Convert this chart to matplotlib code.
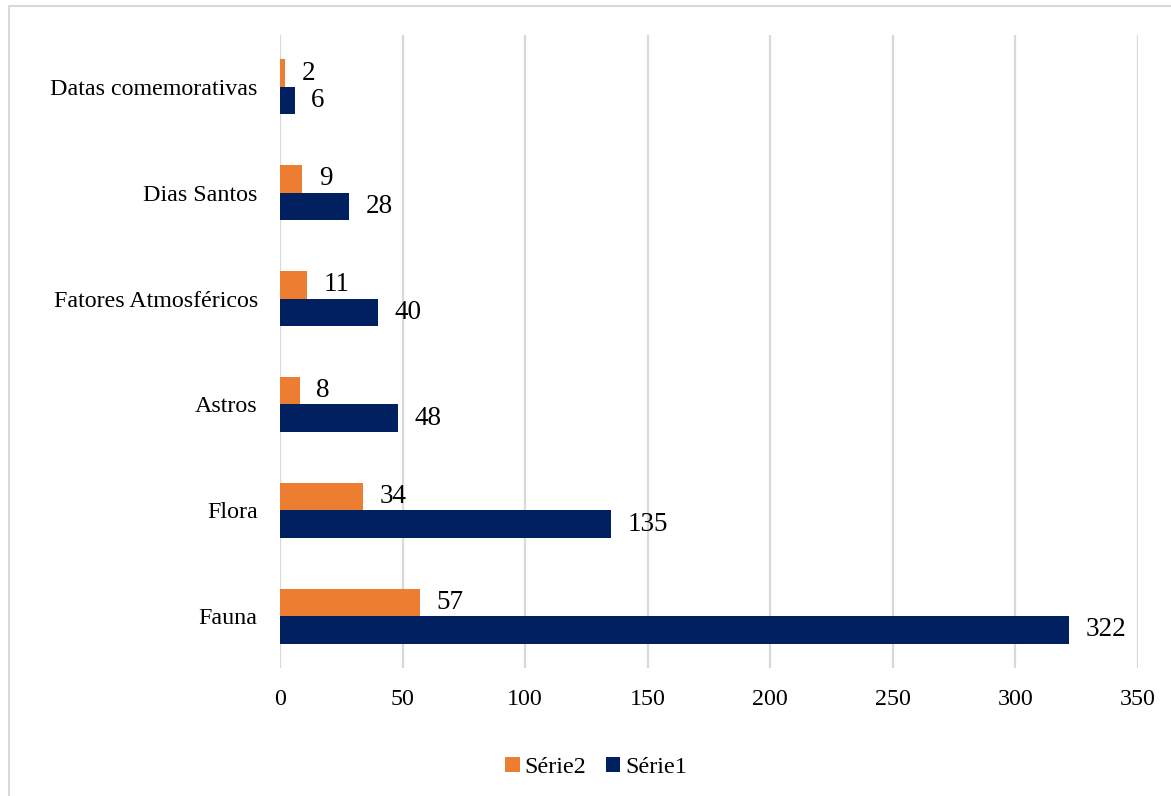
import matplotlib
matplotlib.use("Agg")
import matplotlib.pyplot as plt
from matplotlib.patches import Rectangle
import numpy as np

categories = ["Fauna", "Flora", "Astros", "Fatores Atmosféricos", "Dias Santos", "Datas comemorativas"]
serie1 = [322, 135, 48, 40, 28, 6]
serie2 = [57, 34, 8, 11, 9, 2]
xticks = [0, 50, 100, 150, 200, 250, 300, 350]

plt.rcParams["font.family"] = ["Liberation Serif", "DejaVu Serif"]

fig = plt.figure(figsize=(11.71, 7.96), dpi=100)
ax = fig.add_axes([0.2391, 0.1608, 0.7327, 0.7952])

y = np.arange(len(categories))
h = 0.26
orange = "#ED7D31"
navy = "#002060"

b2 = ax.barh(y + h / 2, serie2, height=h, color=orange, label="Série2", zorder=3)
b1 = ax.barh(y - h / 2, serie1, height=h, color=navy, label="Série1", zorder=3)

for bars, vals in ((b2, serie2), (b1, serie1)):
    for rect, v in zip(bars, vals):
        ax.annotate(f"{v}", (v, rect.get_y() + rect.get_height() / 2),
                    xytext=(12, 0), textcoords="offset points",
                    ha="left", va="center", fontsize=19.5, color="black")

ax.set_xlim(0, 350)
ax.set_ylim(-0.49, 5.49)
ax.set_xticks(xticks)
ax.set_yticks(y)
ax.set_yticklabels(categories)
ax.tick_params(axis="both", length=0, labelsize=17.3, colors="black")
ax.tick_params(axis="x", pad=15)
ax.tick_params(axis="y", pad=16)
ax.grid(axis="x", color="#d9d9d9", linewidth=1.6, zorder=0)
for s in ax.spines.values():
    s.set_visible(False)

leg = fig.legend(handles=[b2, b1], labels=["Série2", "Série1"], loc="center",
                 bbox_to_anchor=(0.509, 0.036), ncol=2, frameon=False,
                 fontsize=17.4, handlelength=0.6, handleheight=0.6,
                 handletextpad=0.2, columnspacing=0.8)

# light frame around the chart area
fig.patches.append(Rectangle((9 / 1171, -0.1), 1.2, 1 - 6 / 796 + 0.1,
                             transform=fig.transFigure, fill=False,
                             edgecolor="#d9d9d9", linewidth=1.5))

fig.savefig("out.png", dpi=100, facecolor="white")
